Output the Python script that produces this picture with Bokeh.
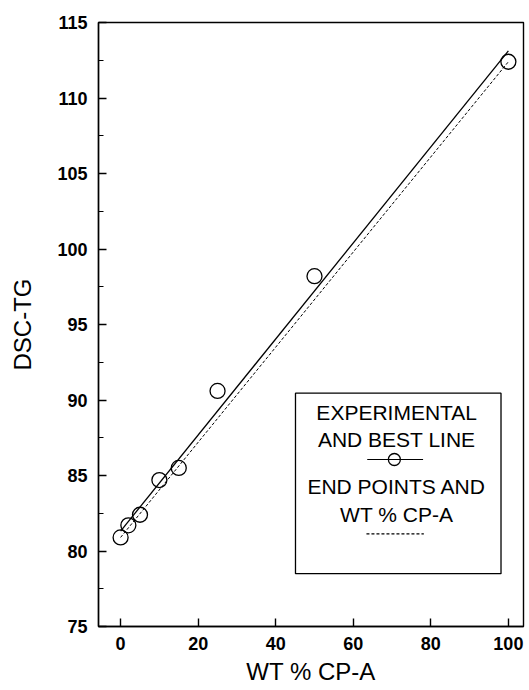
import numpy as np
from bokeh.plotting import figure
from bokeh.models import Range1d, BoxAnnotation, Label, FixedTicker
from bokeh.embed import file_html
from bokeh.resources import INLINE

# Glass transition (DSC) vs. weight percent of CP-A
wt_pct = [0, 2, 5, 10, 15, 25, 50, 100]
dsc_tg = [80.9, 81.7, 82.4, 84.7, 85.5, 90.6, 98.2, 112.4]

x_ticks = [0, 20, 40, 60, 80, 100]
y_ticks = [75, 80, 85, 90, 95, 100, 105, 110, 115]

legend_lines = ["EXPERIMENTAL", "AND BEST LINE", "END POINTS AND", "WT % CP-A"]

FONT = "Liberation Sans"

p = figure(width=529, height=690, output_backend="svg", toolbar_location=None,
           x_range=Range1d(-5.7, 103.9), y_range=Range1d(75, 115),
           min_border_left=98, min_border_right=6, min_border_top=22,
           min_border_bottom=64)

p.background_fill_color = "white"
p.border_fill_color = "white"
p.outline_line_color = "black"
p.outline_line_width = 1.4
p.grid.visible = False

# axes: inward ticks, bold numerals
for ax in (p.xaxis[0], p.yaxis[0]):
    ax.axis_line_width = 1.4
    ax.axis_line_color = "black"
    ax.major_tick_in = 8
    ax.major_tick_out = 0
    ax.major_tick_line_width = 1.4
    ax.major_label_text_font = FONT
    ax.major_label_text_font_style = "bold"
    ax.major_label_text_font_size = "18px"
    ax.major_label_text_color = "black"
    ax.axis_label_text_font = FONT
    ax.axis_label_text_font_style = "normal"
    ax.axis_label_text_font_size = "24px"
    ax.axis_label_text_color = "black"

p.xaxis[0].ticker = FixedTicker(ticks=x_ticks)
p.xaxis[0].minor_tick_in = 0
p.xaxis[0].minor_tick_out = 0
p.xaxis[0].major_label_standoff = 10
p.xaxis[0].axis_label = "WT % CP-A"
p.xaxis[0].axis_label_standoff = 5

minor_y = [t + 2.5 for t in y_ticks[:-1]]
p.yaxis[0].ticker = FixedTicker(ticks=y_ticks, minor_ticks=minor_y)
p.yaxis[0].minor_tick_in = 5
p.yaxis[0].minor_tick_out = 0
p.yaxis[0].minor_tick_line_width = 1.2
p.yaxis[0].major_label_standoff = 11
p.yaxis[0].axis_label = "DSC-TG"
p.yaxis[0].axis_label_standoff = 18

# least-squares best line through the experimental points
slope, intercept = np.polyfit(wt_pct, dsc_tg, 1)
fit_x = [wt_pct[0], wt_pct[-1]]
fit_y = [intercept + slope * v for v in fit_x]
p.line(fit_x, fit_y, line_color="black", line_width=1.3)

# straight line joining the two end points
p.line([wt_pct[0], wt_pct[-1]], [dsc_tg[0], dsc_tg[-1]],
       line_color="black", line_width=1.0, line_dash="3 2")

p.scatter(wt_pct, dsc_tg, marker="circle", size=15, fill_color=None,
          line_color="black", line_width=1.3)

# key box
p.add_layout(BoxAnnotation(left=45.1, right=98.1, bottom=78.5, top=90.45,
                           fill_alpha=0, line_color="black", line_alpha=1.0,
                           line_width=1.3))

text_y = [89.2, 87.4, 84.3, 82.45]
for txt, ty in zip(legend_lines, text_y):
    p.add_layout(Label(x=71.2, y=ty, text=txt, text_align="center",
                       text_baseline="middle", text_font=FONT,
                       text_font_size="21px", text_color="black"))

p.line([63.6, 78.0], [86.06, 86.06], line_color="black", line_width=1.2)
p.scatter([70.6], [86.06], marker="circle", size=12, fill_color=None,
          line_color="black", line_width=1.3)
p.line([63.4, 78.2], [81.14, 81.14], line_color="black", line_width=1.2,
       line_dash="3 2")

open("out.html", "w").write(file_html(p, INLINE))
